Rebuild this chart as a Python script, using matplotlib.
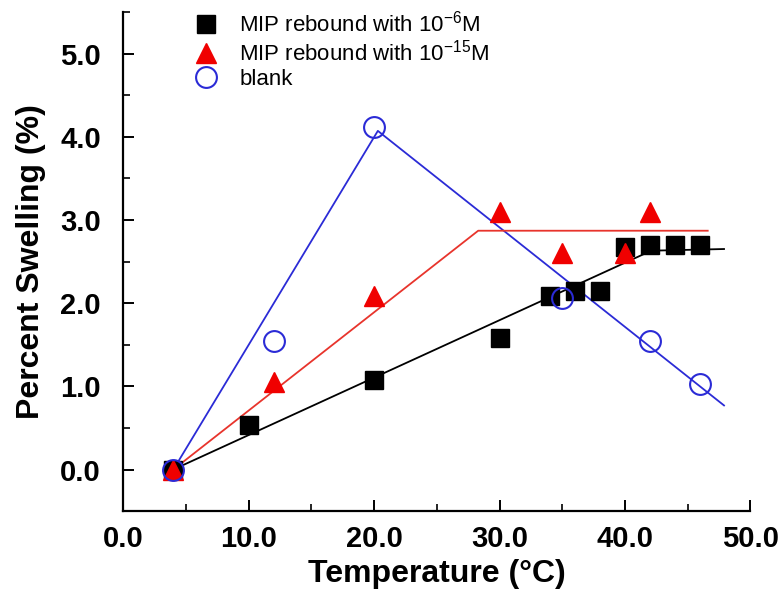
import matplotlib
matplotlib.use("Agg")
import matplotlib.pyplot as plt
from matplotlib.ticker import MultipleLocator, FormatStrFormatter

plt.rcParams['font.family'] = ['Liberation Sans', 'DejaVu Sans']

# measured swelling data
t_sq = [4, 10, 20, 30, 34, 36, 38, 40, 42, 44, 46]
sw_sq = [0.0, 0.53, 1.08, 1.58, 2.08, 2.15, 2.15, 2.68, 2.70, 2.70, 2.70]

t_tri = [4, 12, 20, 30, 35, 40, 42]
sw_tri = [0.0, 1.05, 2.08, 3.10, 2.60, 2.60, 3.10]

t_blank = [4, 12, 20, 35, 42, 46]
sw_blank = [0.0, 1.55, 4.12, 2.06, 1.55, 1.03]

# piecewise trend lines
fit_sq_t = [4, 42.1, 47.9]
fit_sq_y = [0.0, 2.63, 2.65]
fit_tri_t = [4, 28.3, 46.6]
fit_tri_y = [0.0, 2.87, 2.87]
fit_blank_t = [4, 20.3, 47.9]
fit_blank_y = [0.0, 4.07, 0.77]

fig = plt.figure(figsize=(7.8, 5.95), dpi=100)
ax = fig.add_axes([0.158, 0.141, 0.804, 0.839])

ax.plot(fit_blank_t, fit_blank_y, color='#2b2bd6', lw=1.3, zorder=2)
ax.plot(fit_tri_t, fit_tri_y, color='#e8342c', lw=1.3, zorder=2)
ax.plot(fit_sq_t, fit_sq_y, color='black', lw=1.3, zorder=2)

ax.plot(t_sq, sw_sq, 's', color='black', ms=13, zorder=3,
        label='MIP rebound with 10$^{\\mathregular{-6}}$M')
ax.plot(t_tri, sw_tri, '^', color='#f00000', ms=15, zorder=3,
        label='MIP rebound with 10$^{\\mathregular{-15}}$M')
ax.plot(t_blank, sw_blank, 'o', mfc='none', mec='#2b2bd6', mew=1.5, ms=15, zorder=4,
        label='blank')

ax.set_xlim(0, 50)
ax.set_ylim(-0.5, 5.5)
ax.xaxis.set_major_locator(MultipleLocator(10))
ax.xaxis.set_minor_locator(MultipleLocator(5))
ax.yaxis.set_major_locator(MultipleLocator(1))
ax.yaxis.set_minor_locator(MultipleLocator(0.5))
ax.xaxis.set_major_formatter(FormatStrFormatter('%.1f'))
ax.yaxis.set_major_formatter(FormatStrFormatter('%.1f'))

for s in ['top', 'right']:
    ax.spines[s].set_visible(False)
for s in ['left', 'bottom']:
    ax.spines[s].set_linewidth(1.6)

ax.tick_params(which='major', direction='in', length=8, width=1.4, labelsize=21)
ax.tick_params(axis='y', which='major', pad=16)
ax.tick_params(axis='x', which='major', pad=10)
ax.tick_params(which='minor', direction='in', length=5, width=1.2)
for lab in ax.get_xticklabels() + ax.get_yticklabels():
    lab.set_fontweight('bold')

ax.set_xlabel('Temperature (°C)', fontsize=23, fontweight='bold', labelpad=4)
ax.set_ylabel('Percent Swelling (%)', fontsize=23, fontweight='bold', labelpad=10)

ax.legend(loc='upper left', bbox_to_anchor=(0.1, 1.02), frameon=False, fontsize=16,
          handletextpad=1.0, labelspacing=0.15, handlelength=1.0, borderaxespad=0)

fig.savefig('out.png', dpi=100)
